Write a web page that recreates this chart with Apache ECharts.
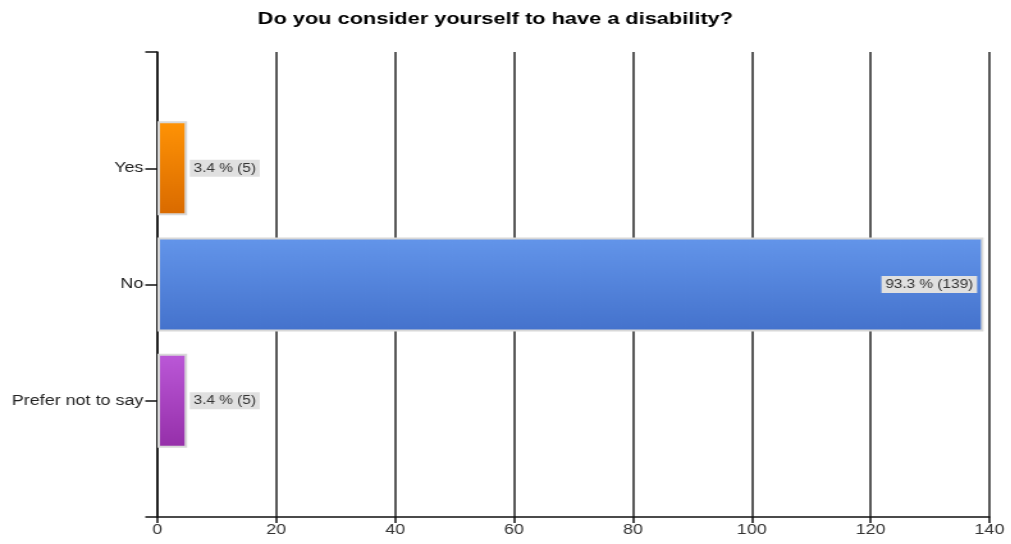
<!DOCTYPE html>
<html>
<head>
<meta charset="utf-8">
<script src="https://cdn.jsdelivr.net/npm/echarts@6/dist/echarts.min.js"></script>
<style>
  html, body { margin: 0; padding: 0; background: #fff; overflow: hidden; }
  /* the chart is drawn narrower and then widened, giving the broad lettering and heavy verticals */
  #chart { width: 790px; height: 544px; transform: scaleX(1.28); transform-origin: 0 0; }
</style>
</head>
<body>
<div id="chart"></div>
<script>
// Survey answers (empty slots pad the axis above and below the bars)
const categories = ['', 'Yes', 'No', 'Prefer not to say', ''];
const counts = [null, 5, 139, 5, null];
const percents = [null, 3.4, 93.3, 3.4, null];
const xTicks = [0, 20, 40, 60, 80, 100, 120, 140];

const gradients = [
  null,
  ['#ff9305', '#d96a00'],
  ['#6395ea', '#4472cc'],
  ['#bb58d8', '#952fa9'],
  null
];

const FONT = 'Liberation Sans, Arial, sans-serif';
const chart = echarts.init(document.getElementById('chart'));

const data = counts.map((v, i) => {
  if (v === null) return null;
  const big = v > 50;
  return {
    value: v,
    itemStyle: {
      color: new echarts.graphic.LinearGradient(0, 0, 0, 1, [
        { offset: 0, color: gradients[i][0] },
        { offset: 1, color: gradients[i][1] }
      ]),
      borderColor: '#d8d8d8',
      borderWidth: 2
    },
    label: {
      show: true,
      position: big ? 'insideRight' : 'right',
      distance: big ? 5 : 2,
      formatter: () => percents[i].toFixed(1) + ' % (' + v + ')',
      backgroundColor: '#e0e0e0',
      color: '#333',
      fontFamily: FONT,
      fontSize: 12,
      lineHeight: 13,
      padding: [2, 3, 2, 3]
    }
  };
});

chart.setOption({
  animation: false,
  title: {
    text: 'Do you consider yourself to have a disability?',
    left: 382,
    textAlign: 'center',
    top: 6,
    textStyle: {
      fontFamily: FONT,
      fontWeight: 'bold',
      fontSize: 17,
      color: '#000'
    }
  },
  grid: { left: 123, right: 17, top: 52, bottom: 27, containLabel: false },
  xAxis: {
    type: 'value',
    min: xTicks[0],
    max: xTicks[xTicks.length - 1],
    interval: 20,
    axisLine: { show: true, lineStyle: { color: '#111', width: 1.5 } },
    axisTick: { show: true, length: 6, lineStyle: { color: '#111', width: 1.5 } },
    axisLabel: {
      color: '#333',
      fontFamily: FONT,
      fontSize: 14,
      margin: 6
    },
    splitLine: { show: true, lineStyle: { color: '#222', width: 1.5 } }
  },
  yAxis: {
    type: 'category',
    data: categories,
    inverse: true,
    boundaryGap: false,
    axisLine: { show: true, lineStyle: { color: '#111', width: 1.5 } },
    axisTick: { show: true, length: 9.5, lineStyle: { color: '#111', width: 1.5 } },
    axisLabel: {
      color: '#222',
      fontFamily: FONT,
      fontSize: 14,
      margin: 11
    },
    splitLine: { show: false }
  },
  series: [{
    type: 'bar',
    data: data,
    barWidth: 94
  }]
});
</script>
</body>
</html>
